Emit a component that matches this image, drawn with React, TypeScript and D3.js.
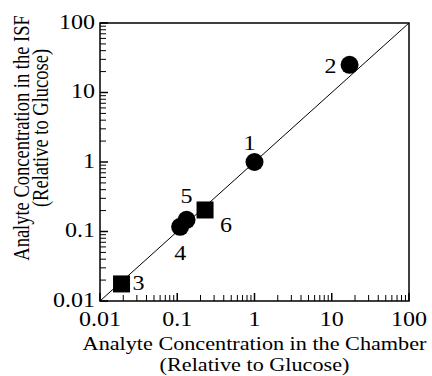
import React from 'react'
import * as d3 from 'd3'

// analyte concentration ratios
const pointLabels = ['1', '2', '3', '4', '5', '6']
const chamberConc = [1, 17, 0.019, 0.109, 0.132, 0.229]
const isfConc = [1, 25, 0.0176, 0.117, 0.147, 0.204]
const markerShape = ['circle', 'circle', 'square', 'circle', 'circle', 'square']
const tickValues = [0.01, 0.1, 1, 10, 100]
const tickLabels = ['0.01', '0.1', '1', '10', '100']

// label placement relative to marker centre (layout only)
const labelDx = [-5, -19, 17, 0, 0, 21]
const labelDy = [-12, 8, 6, 33, -17, 22]

const W = 432
const H = 376
const left = 100, right = 409, top = 23, bottom = 301
const font = '"Liberation Serif", "Times New Roman", serif'
// the source figure is stretched sideways, so is its type
const SX = 1.2

function SText(props: { x: number, y: number, rot?: boolean, size: number, anchor?: string, dy?: string, children: React.ReactNode }) {
  const t = `translate(${props.x},${props.y}) scale(${SX},1)` + (props.rot ? ' rotate(-90)' : '')
  return (
    <text transform={t} textAnchor={props.anchor || 'middle'} dy={props.dy} fontSize={props.size}>
      {props.children}
    </text>
  )
}

export default function App() {
  const x = d3.scaleLog().domain([0.01, 100]).range([left, right])
  const y = d3.scaleLog().domain([0.01, 100]).range([bottom, top])

  // minor ticks 2..9 in every decade
  const minor: number[] = []
  for (let d = 0.01; d < 100; d *= 10) {
    for (let k = 2; k <= 9; k++) minor.push(+(d * k).toPrecision(3))
  }

  const line = d3.line<number>().x(v => x(v)).y(v => y(v))

  return (
    <svg width={W} height={H} style={{ position: 'absolute', left: 0, top: 0, background: '#fff' }}
      fontFamily={font}>
      {/* identity line */}
      <path d={line([0.01, 100])!} stroke="#000" strokeWidth={1} fill="none" />

      {/* x ticks */}
      {minor.map(v => (
        <line key={'xm' + v} x1={x(v)} x2={x(v)} y1={bottom} y2={bottom - 6} stroke="#000" strokeWidth={1} />
      ))}
      {tickValues.map(v => (
        <line key={'xM' + v} x1={x(v)} x2={x(v)} y1={bottom} y2={bottom - 8} stroke="#000" strokeWidth={1.5} />
      ))}
      {/* y ticks */}
      {minor.map(v => (
        <line key={'ym' + v} x1={left} x2={left + 6} y1={y(v)} y2={y(v)} stroke="#000" strokeWidth={1} />
      ))}
      {tickValues.map(v => (
        <line key={'yM' + v} x1={left} x2={left + 8} y1={y(v)} y2={y(v)} stroke="#000" strokeWidth={1.5} />
      ))}

      <rect x={left} y={top} width={right - left} height={bottom - top} fill="none" stroke="#000" strokeWidth={1.5} />

      {tickValues.map((v, i) => (
        <SText key={'xl' + v} x={x(v)} y={326} size={20}>{tickLabels[i]}</SText>
      ))}
      {tickValues.map((v, i) => (
        <SText key={'yl' + v} x={95} y={y(v)} dy="0.28em" anchor="end" size={20}>{tickLabels[i]}</SText>
      ))}

      {/* markers */}
      {chamberConc.map((c, i) => markerShape[i] === 'circle'
        ? <circle key={'p' + i} cx={x(c)} cy={y(isfConc[i])} r={9} fill="#000" />
        : <rect key={'p' + i} x={x(c) - 8.5} y={y(isfConc[i]) - 8.5} width={17} height={17} fill="#000" />
      )}
      {chamberConc.map((c, i) => (
        <SText key={'t' + i} x={x(c) + labelDx[i]} y={y(isfConc[i]) + labelDy[i]} size={20}>
          {pointLabels[i]}
        </SText>
      ))}

      {/* axis titles */}
      <SText x={(left + right) / 2} y={350} size={18.5}>Analyte Concentration in the Chamber</SText>
      <SText x={(left + right) / 2} y={371} size={18.5}>(Relative to Glucose)</SText>
      <SText x={29} y={138} rot size={18.5}>Analyte Concentration in the ISF</SText>
      <SText x={48} y={128} rot size={18.5}>(Relative to Glucose)</SText>
    </svg>
  )
}
